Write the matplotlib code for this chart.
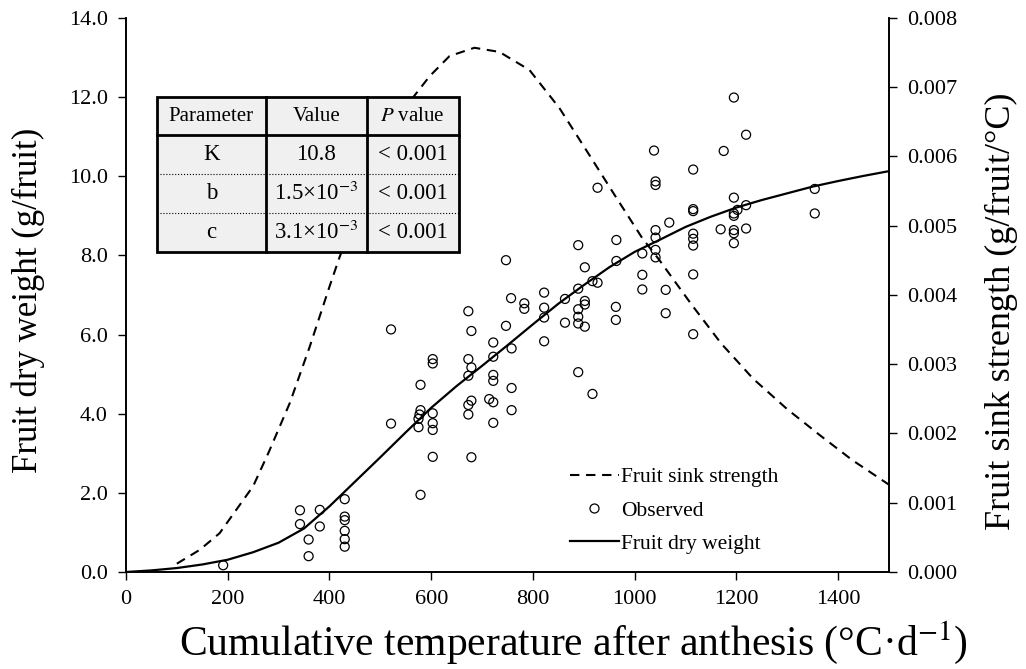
import matplotlib
matplotlib.use("Agg")
import matplotlib.pyplot as plt
from matplotlib.lines import Line2D
from matplotlib.patches import Rectangle
from matplotlib.ticker import FormatStrFormatter

plt.rcParams["font.family"] = ["Liberation Serif", "DejaVu Serif"]
plt.rcParams["mathtext.fontset"] = "stix"

# observed fruit dry weight (g/fruit) vs cumulative temperature
obs_x = [191,
         342, 342, 381, 381, 359, 359,
         430, 430, 430, 430, 430, 430,
         521, 521,
         579, 579, 577, 575, 575, 579,
         603, 603, 603, 603, 603, 603,
         673, 679, 673, 679, 673, 679, 673, 673, 679,
         722, 722, 722, 722, 714, 722, 722,
         747, 747, 757, 758, 758, 758,
         783, 783,
         822, 822, 822, 822,
         863, 863,
         889, 889, 889, 889, 889, 889,
         902, 902, 902, 902,
         927, 917, 927, 917,
         964, 964, 963, 963,
         1015, 1015, 1015,
         1038, 1041, 1041, 1041, 1041, 1041, 1041,
         1061, 1061, 1068,
         1115, 1115, 1115, 1115, 1115, 1115, 1115, 1115,
         1175, 1169,
         1195, 1195, 1202, 1195, 1195, 1195, 1195, 1195,
         1219, 1219, 1219,
         1354, 1354]
obs_y = [0.17,
         1.56, 1.21, 1.57, 1.15, 0.82, 0.40,
         1.84, 1.40, 1.31, 1.04, 0.83, 0.64,
         6.13, 3.75,
         4.73, 4.09, 3.98, 3.87, 3.66, 1.95,
         5.38, 5.27, 4.01, 3.76, 3.59, 2.91,
         6.59, 6.09, 5.38, 5.17, 4.96, 4.33, 4.22, 3.98, 2.90,
         5.80, 5.44, 4.98, 4.83, 4.37, 4.29, 3.77,
         7.88, 6.22, 6.92, 5.65, 4.65, 4.09,
         6.79, 6.65,
         7.06, 6.68, 6.43, 5.83,
         6.90, 6.30,
         8.26, 7.16, 6.64, 6.45, 6.28, 5.05,
         7.70, 6.85, 6.76, 6.20,
         9.71, 7.35, 7.31, 4.50,
         8.39, 7.86, 6.70, 6.37,
         8.05, 7.51, 7.14,
         10.65, 9.87, 9.78, 8.64, 8.45, 8.14, 7.95,
         7.13, 6.54, 8.83,
         10.17, 9.17, 9.12, 8.55, 8.42, 8.25, 7.52, 6.01,
         10.64, 8.66,
         11.99, 9.46, 9.15, 9.06, 9.00, 8.64, 8.56, 8.31,
         11.05, 9.27, 8.68,
         9.68, 9.06]

# fitted fruit dry weight curve (left axis)
dw_x = [0, 50, 100, 150, 200, 250, 300, 350, 400, 450, 500, 550, 600, 650,
        700, 750, 800, 850, 900, 950, 1000, 1050, 1100, 1150, 1200, 1250,
        1300, 1350, 1400, 1450, 1500]
dw_y = [0.0, 0.04, 0.10, 0.19, 0.31, 0.50, 0.74, 1.10, 1.66, 2.28, 2.90,
        3.53, 4.15, 4.70, 5.21, 5.73, 6.26, 6.78, 7.25, 7.70, 8.09, 8.40,
        8.72, 8.98, 9.21, 9.40, 9.57, 9.74, 9.88, 10.01, 10.13]

# fruit sink strength curve (right axis)
ss_x = [100, 145, 184, 217, 250, 280, 322, 361, 400, 420, 470, 520, 564,
        597, 636, 685, 734, 793, 852, 911, 960, 1015, 1048, 1112, 1170,
        1233, 1300, 1365, 1427, 1500]
ss_y = [0.00012, 0.00032, 0.00056, 0.00090, 0.00124, 0.00172, 0.00244,
        0.00325, 0.00412, 0.00455, 0.00550, 0.00630, 0.00685, 0.00716,
        0.00745, 0.00757, 0.00751, 0.00725, 0.00670, 0.00602, 0.00545,
        0.00482, 0.00451, 0.00386, 0.00330, 0.00279, 0.00235, 0.00197,
        0.00162, 0.00126]

table_head = ["Parameter", "Value", "$P$ value"]
table_rows = [["K", "10.8", "< 0.001"],
              ["b", "1.5×10$^{-3}$", "< 0.001"],
              ["c", "3.1×10$^{-3}$", "< 0.001"]]

fig, ax = plt.subplots(figsize=(10.26, 6.69), dpi=100)
fig.subplots_adjust(left=0.1228, right=0.8665, top=0.9731, bottom=0.145)
ax2 = ax.twinx()

ax.scatter(obs_x, obs_y, s=42, facecolors="none", edgecolors="black",
           linewidths=0.9, zorder=3)
ax.plot(dw_x, dw_y, color="black", linewidth=1.6, zorder=2)
ax2.plot(ss_x, ss_y, color="black", linewidth=1.5, linestyle=(0, (4.5, 3.2)))

ax.set_xlim(0, 1500)
ax.set_ylim(0, 14)
ax2.set_ylim(0, 0.008)
ax.set_xticks(range(0, 1401, 200))
ax.set_yticks([0, 2, 4, 6, 8, 10, 12, 14])
ax2.set_yticks([0, 0.001, 0.002, 0.003, 0.004, 0.005, 0.006, 0.007, 0.008])
ax.yaxis.set_major_formatter(FormatStrFormatter("%.1f"))
ax2.yaxis.set_major_formatter(FormatStrFormatter("%.3f"))

for a in (ax, ax2):
    a.spines["top"].set_visible(False)
    for s in ("left", "right", "bottom"):
        a.spines[s].set_linewidth(1.2)
    a.tick_params(direction="out", length=6, width=1.0, labelsize=16, pad=7)

ax.set_xlabel("Cumulative temperature after anthesis (°C·d$^{-1}$)",
              fontsize=30)
ax.xaxis.set_label_coords(0.586, -0.085)
ax.set_ylabel("Fruit dry weight (g/fruit)", fontsize=25)
ax.yaxis.set_label_coords(-0.106, 0.491)
ax2.set_ylabel("Fruit sink strength (g/fruit/°C)", fontsize=26)
ax2.yaxis.set_label_coords(1.126, 0.471)

# parameter table drawn over the curves
tl, tr, tt, tb = 0.040, 0.436, 0.858, 0.578
col_edges = [tl, 0.1835, 0.3155, tr]
row_h = (tt - tb) / 4
tr_ = ax2.transAxes
ax2.add_patch(Rectangle((tl, tb), tr - tl, tt - tb, transform=tr_,
                        facecolor="#f0f0f0", edgecolor="black",
                        linewidth=2, zorder=5))
for xc in col_edges[1:-1]:
    ax2.add_line(Line2D([xc, xc], [tb, tt], transform=tr_, color="black",
                        linewidth=2, zorder=6))
ax2.add_line(Line2D([tl, tr], [tt - row_h, tt - row_h], transform=tr_,
                    color="black", linewidth=2, zorder=6))
for i in (2, 3):
    yy = tt - i * row_h
    ax2.add_line(Line2D([tl, tr], [yy, yy], transform=tr_, color="black",
                        linewidth=0.8, linestyle=":", zorder=6))
for r, row in enumerate([table_head] + table_rows):
    yc = tt - (r + 0.5) * row_h
    for c, txt in enumerate(row):
        xc = (col_edges[c] + col_edges[c + 1]) / 2
        ax2.text(xc, yc, txt, transform=tr_, ha="center", va="center",
                 fontsize=15 if r == 0 else 16.5, zorder=7)

handles = [Line2D([], [], color="black", linewidth=1.5,
                  linestyle=(0, (4.5, 3.2))),
           Line2D([], [], marker="o", linestyle="none", markersize=6.5,
                  markerfacecolor="none", markeredgecolor="black",
                  markeredgewidth=0.9),
           Line2D([], [], color="black", linewidth=1.6)]
labels = ["Fruit sink strength", "Observed", "Fruit dry weight"]
ax2.legend(handles, labels, loc="upper left", bbox_to_anchor=(0.57, 0.205),
           frameon=False, fontsize=15.5, handlelength=2.3, handletextpad=0.1,
           labelspacing=0.62, borderaxespad=0)

fig.savefig("out.png", dpi=100)
